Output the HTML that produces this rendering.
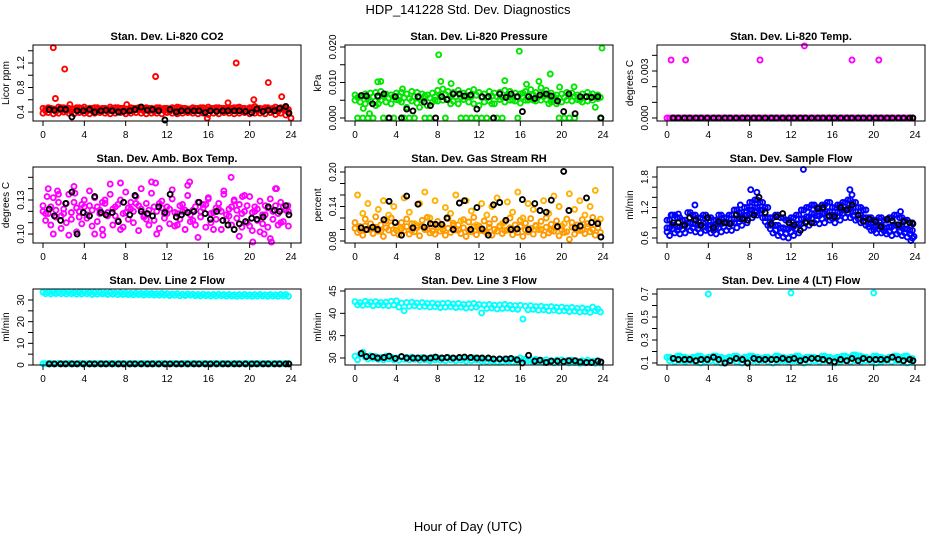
<!DOCTYPE html>
<html><head><meta charset="utf-8"><style>
html,body{margin:0;padding:0;background:#fff;}
svg{display:block;font-family:"Liberation Sans",Arial,sans-serif;}
</style></head><body>
<svg id="chart" width="936" height="540" viewBox="0 0 936 540">
<text x="468" y="14" text-anchor="middle" font-size="13">HDP_141228  Std. Dev. Diagnostics</text>
<text x="468" y="531" text-anchor="middle" font-size="13">Hour of Day (UTC)</text>
</svg>
<script>
const H = [0,0.5,1,1.5,2,2.5,3,3.5,4,4.5,5,5.5,6,6.5,7,7.5,8,8.5,9,9.5,10,10.5,11,11.5,12,12.5,13,13.5,14,14.5,15,15.5,16,16.5,17,17.5,18,18.5,19,19.5,20,20.5,21,21.5,22,22.5,23,23.5];
const H2 = [0.25,0.75,1.25,1.75,2.25,2.75,3.25,3.75,4.25,4.75,5.25,5.75,6.25,6.75,7.25,7.75,8.25,8.75,9.25,9.75,10.25,10.75,11.25,11.75,12.25,12.75,13.25,13.75,14.25,14.75,15.25,15.75,16.25,16.75,17.25,17.75,18.25,18.75,19.25,19.75,20.25,20.75,21.25,21.75,22.25,22.75,23.25,23.75];
const HB = [0.6,1.1,1.7,2.2,2.8,3.3,3.9,4.5,5.0,5.6,6.1,6.7,7.3,7.8,8.4,8.9,9.5,10.1,10.6,11.2,11.8,12.3,12.9,13.4,14.0,14.6,15.1,15.7,16.2,16.8,17.4,17.9,18.5,19.0,19.6,20.2,20.7,21.3,21.8,22.4,22.9,23.5,23.8];

const co2A = [0.46,0.47,0.45,0.48,0.47,0.46,0.45,0.47,0.48,0.46,0.47,0.45,0.46,0.48,0.47,0.46,0.45,0.47,0.46,0.48,0.47,0.46,0.47,0.45,0.46,0.47,0.48,0.46,0.45,0.47,0.46,0.47,0.48,0.46,0.47,0.46,0.45,0.47,0.48,0.46,0.47,0.49,0.46,0.47,0.45,0.48,0.47,0.46];
const co2B = [0.38,0.39,0.37,0.38,0.40,0.38,0.37,0.39,0.38,0.37,0.38,0.39,0.38,0.37,0.38,0.39,0.37,0.38,0.39,0.38,0.37,0.38,0.38,0.37,0.39,0.38,0.37,0.38,0.39,0.38,0.37,0.38,0.36,0.38,0.37,0.39,0.38,0.37,0.38,0.39,0.37,0.38,0.38,0.37,0.39,0.36,0.38,0.35];
const co2C = [0.42,0.43,0.41,0.43,0.42,0.41,0.43,0.42,0.41,0.42,0.43,0.42,0.41,0.42,0.43,0.42,0.41,0.42,0.43,0.42,0.42,0.41,0.43,0.42,0.41,0.42,0.43,0.42,0.41,0.42,0.43,0.41,0.42,0.43,0.42,0.41,0.42,0.43,0.42,0.41,0.43,0.42,0.41,0.43,0.42,0.41,0.44,0.40];
const co2D = [0.45,0.46,0.44,0.47,0.46,0.45,0.47,0.46,0.45,0.46,0.47,0.46,0.45,0.46,0.47,0.46,0.45,0.46,0.47,0.46,0.46,0.45,0.47,0.46,0.45,0.46,0.47,0.46,0.45,0.46,0.47,0.45,0.46,0.47,0.46,0.45,0.46,0.47,0.46,0.45,0.47,0.46,0.45,0.47,0.46,0.45,0.46,0.44];
const co2OutH = [1.0,1.2,2.1,10.9,18.7,21.8,23.1,20.4,15.9,24.0,2.6,8.1,17.9];
const co2OutV = [1.45,0.62,1.1,0.98,1.2,0.88,0.65,0.6,0.30,0.30,0.52,0.52,0.55];
const co2Blk = [0.44,0.43,0.45,0.44,0.32,0.42,0.42,0.44,0.40,0.42,0.43,0.42,0.40,0.41,0.42,0.44,0.48,0.43,0.44,0.42,0.27,0.44,0.40,0.42,0.42,0.42,0.42,0.39,0.42,0.41,0.42,0.42,0.42,0.42,0.41,0.39,0.45,0.41,0.43,0.42,0.46,0.49,0.38];

const prA = [0.0065,0.006,0.0068,0.007,0.0072,0.0075,0.0068,0.0065,0.007,0.0072,0.0068,0.0075,0.0072,0.0068,0.0065,0.007,0.0078,0.0082,0.0075,0.0072,0.0078,0.007,0.0075,0.008,0.0072,0.0068,0.0075,0.007,0.0072,0.0078,0.0075,0.007,0.0068,0.0075,0.008,0.0072,0.0085,0.0078,0.007,0.0065,0.0068,0.0072,0.007,0.0065,0.0068,0.0072,0.0068,0.0065];
const prB = [0.005,0.0045,0.004,0.0048,0.0035,0.005,0.0045,0.004,0.0052,0.0045,0.003,0.0048,0.0042,0.005,0.0035,0.0045,0.0048,0.005,0.0055,0.0048,0.004,0.0052,0.0045,0.004,0.0035,0.0045,0.0048,0.004,0.0052,0.0045,0.005,0.0048,0.0042,0.005,0.0055,0.0048,0.005,0.0052,0.0045,0.004,0.0045,0.005,0.0048,0.0052,0.0045,0.0048,0.005,0.0055];
const prC = [0,0,0,0,0.004,0,0,0,0.005,0,0,0,0.003,0,0,0.005,0.006,0,0.004,0.006,0,0,0,0,0,0,0.004,0,0,0.006,0.005,0,0.007,0.005,0.005,0.006,0.006,0.004,0.005,0,0,0,0,0.005,0.006,0.006,0.003,0];
const prD = [0.0058,0.0062,0.0055,0.006,0.0058,0.0062,0.0056,0.006,0.0062,0.0057,0.0055,0.006,0.0058,0.0062,0.0056,0.006,0.0064,0.0066,0.0062,0.006,0.0058,0.0062,0.006,0.0064,0.0058,0.0056,0.0062,0.006,0.0058,0.0064,0.0062,0.006,0.0058,0.0062,0.0065,0.006,0.0068,0.0064,0.006,0.0056,0.0058,0.0062,0.006,0.0056,0.0058,0.0062,0.006,0.0058];
const prOutH = [8.1,15.9,23.9,18.9,2.5,2.2,9.3,14.5,17.8,21.2,19.8,0.8,16.6,8.3,1.4,4.6];
const prOutV = [0.0178,0.0188,0.0197,0.0124,0.0103,0.0102,0.0097,0.0105,0.0103,0.0088,0.0087,0.0027,0.0095,0.0103,0.0012,0.0082];
const prBlk = [0.0063,0.0062,0.004,0.0062,0.0068,0,0.006,0,0.0025,0.002,0.006,0.0045,0.0035,0,0.006,0.0052,0.0068,0.0068,0.0062,0.0065,0.0025,0.006,0.006,0,0.0068,0.0058,0.0068,0.006,0.0018,0.006,0.0055,0.0065,0.0068,0.0062,0.0048,0.0018,0.0068,0.0012,0.006,0.006,0.0058,0.006,0];

const tmpZero = [0,0,0,0,0,0,0,0,0,0,0,0,0,0,0,0,0,0,0,0,0,0,0,0,0,0,0,0,0,0,0,0,0,0,0,0,0,0,0,0,0,0,0,0,0,0,0,0];
const tmpOutH = [0.4,1.8,9.0,13.3,17.9,20.5];
const tmpOutV = [0.0037,0.0037,0.0037,0.0046,0.0037,0.0037];
const tmpBlk = [0,0,0,0,0,0,0,0,0,0,0,0,0,0,0,0,0,0,0,0,0,0,0,0,0,0,0,0,0,0,0,0,0,0,0,0,0,0,0,0,0,0,0];

const ambA = [0.125,0.118,0.132,0.128,0.122,0.135,0.128,0.12,0.13,0.125,0.132,0.118,0.127,0.135,0.124,0.13,0.119,0.128,0.133,0.122,0.127,0.136,0.12,0.129,0.124,0.131,0.118,0.126,0.134,0.121,0.128,0.123,0.132,0.119,0.127,0.135,0.122,0.13,0.126,0.12,0.133,0.124,0.129,0.117,0.131,0.125,0.128,0.122];
const ambB = [0.112,0.108,0.115,0.105,0.11,0.113,0.102,0.109,0.114,0.107,0.111,0.104,0.116,0.108,0.112,0.106,0.113,0.11,0.103,0.115,0.108,0.112,0.105,0.114,0.109,0.107,0.113,0.104,0.111,0.108,0.115,0.106,0.11,0.113,0.104,0.112,0.108,0.114,0.106,0.11,0.103,0.112,0.109,0.106,0.113,0.108,0.111,0.107];
const ambC = [0.12,0.14,0.1,0.135,0.118,0.099,0.142,0.115,0.124,0.138,0.1,0.121,0.13,0.144,0.116,0.104,0.137,0.122,0.127,0.14,0.113,0.146,0.1,0.123,0.118,0.139,0.108,0.12,0.143,0.112,0.097,0.126,0.131,0.104,0.122,0.138,0.116,0.129,0.098,0.134,0.107,0.12,0.102,0.125,0.096,0.14,0.11,0.121];
const ambD = [0.118,0.124,0.121,0.116,0.127,0.119,0.123,0.126,0.117,0.121,0.124,0.128,0.119,0.122,0.126,0.118,0.123,0.12,0.125,0.117,0.121,0.124,0.127,0.118,0.122,0.119,0.125,0.121,0.117,0.124,0.12,0.126,0.118,0.123,0.12,0.117,0.124,0.121,0.118,0.125,0.119,0.122,0.117,0.123,0.12,0.118,0.124,0.12];
const ambOutH = [0.4,1.4,3.1,7.5,10.9,14.2,18.2,19.3,21.4,22.6,23.7,5.8,20.3,22.1];
const ambOutV = [0.133,0.138,0.136,0.145,0.145,0.146,0.15,0.133,0.1,0.14,0.125,0.099,0.093,0.093];
const ambBlk = [0.122,0.116,0.112,0.127,0.137,0.1,0.119,0.116,0.133,0.119,0.117,0.119,0.111,0.128,0.117,0.134,0.12,0.118,0.116,0.124,0.119,0.135,0.115,0.117,0.119,0.12,0.128,0.118,0.113,0.12,0.112,0.108,0.104,0.109,0.111,0.114,0.113,0.115,0.124,0.121,0.12,0.125,0.117];

const rhA = [0.112,0.105,0.118,0.11,0.122,0.108,0.115,0.12,0.105,0.112,0.118,0.11,0.107,0.116,0.121,0.109,0.114,0.106,0.119,0.111,0.108,0.117,0.113,0.121,0.106,0.115,0.11,0.118,0.105,0.113,0.12,0.108,0.116,0.111,0.119,0.107,0.114,0.12,0.109,0.115,0.106,0.118,0.112,0.108,0.117,0.11,0.121,0.113];
const rhB = [0.095,0.09,0.1,0.093,0.097,0.088,0.099,0.094,0.091,0.098,0.092,0.096,0.089,0.1,0.094,0.092,0.097,0.09,0.095,0.099,0.093,0.088,0.096,0.091,0.098,0.094,0.09,0.097,0.093,0.099,0.091,0.095,0.088,0.096,0.092,0.1,0.09,0.094,0.097,0.089,0.095,0.083,0.092,0.098,0.093,0.096,0.09,0.095];
const rhC = [0.16,0.128,0.145,0.102,0.135,0.15,0.125,0.14,0.1,0.155,0.13,0.11,0.145,0.165,0.12,0.15,0.105,0.138,0.128,0.16,0.115,0.15,0.132,0.108,0.145,0.125,0.14,0.155,0.11,0.148,0.13,0.165,0.12,0.145,0.135,0.102,0.15,0.128,0.158,0.14,0.11,0.162,0.135,0.15,0.125,0.14,0.168,0.118];
const rhD = [0.102,0.098,0.106,0.1,0.104,0.097,0.103,0.107,0.099,0.101,0.105,0.098,0.103,0.106,0.1,0.097,0.104,0.1,0.102,0.107,0.099,0.103,0.098,0.105,0.101,0.097,0.104,0.1,0.106,0.098,0.103,0.1,0.105,0.099,0.102,0.106,0.1,0.104,0.098,0.103,0.1,0.096,0.104,0.101,0.099,0.105,0.1,0.103];
const rhBlk = [0.103,0.1,0.104,0.1,0.117,0.149,0.112,0.09,0.158,0.103,0.144,0.104,0.11,0.109,0.109,0.12,0.1,0.146,0.15,0.1,0.138,0.101,0.09,0.143,0.147,0.116,0.1,0.101,0.152,0.1,0.145,0.133,0.13,0.151,0.105,0.201,0.133,0.103,0.106,0.155,0.112,0.11,0.087];

const sfA = [0.95,1.05,1.0,0.95,1.1,1.05,1.0,1.05,1.0,0.95,1.05,1.0,1.05,1.15,1.1,1.2,1.3,1.35,1.3,1.2,1.0,1.05,1.0,0.95,1.0,1.05,1.15,1.2,1.25,1.2,1.25,1.3,1.2,1.25,1.3,1.35,1.3,1.2,1.15,1.0,0.95,1.0,0.95,1.0,1.05,1.0,0.95,0.9];
const sfB = [0.65,0.7,0.68,0.7,0.75,0.72,0.7,0.75,0.7,0.68,0.72,0.75,0.75,0.8,0.85,0.9,1.0,1.05,1.0,0.85,0.7,0.65,0.62,0.6,0.65,0.7,0.8,0.85,0.9,0.88,0.9,0.95,0.9,0.95,1.0,1.0,0.95,0.9,0.85,0.75,0.7,0.7,0.68,0.65,0.68,0.65,0.62,0.6];
const sfC = [0.8,0.85,0.82,0.85,0.9,0.88,0.85,0.9,0.85,0.82,0.88,0.9,0.9,0.98,0.98,1.05,1.15,1.2,1.15,1.0,0.85,0.85,0.8,0.78,0.82,0.88,0.98,1.02,1.08,1.04,1.08,1.12,1.05,1.1,1.15,1.18,1.12,1.05,1.0,0.88,0.82,0.85,0.8,0.82,0.86,0.82,0.78,0.75];
const sfD = [0.72,0.78,0.75,0.77,0.82,0.8,0.78,0.82,0.78,0.75,0.8,0.82,0.82,0.9,0.92,0.98,1.08,1.12,1.08,0.92,0.78,0.75,0.7,0.68,0.72,0.78,0.88,0.92,0.98,0.95,0.98,1.02,0.98,1.02,1.08,1.1,1.04,0.98,0.92,0.82,0.76,0.78,0.74,0.72,0.76,0.72,0.7,0.68];
const sfOutH = [13.2,8.1,8.7,17.7,2.7,7.1,23.6,23.9,17.9,22.6,1.1,0.4];
const sfOutV = [1.95,1.55,1.5,1.55,1.25,1.25,0.55,0.63,1.45,1.12,1.07,1.05];
const sfBlk = [0.9,0.9,0.85,1.0,0.95,0.85,1.0,0.8,0.92,0.9,0.88,1.05,0.98,0.95,1.05,1.4,1.1,0.88,1.02,1.08,0.9,0.86,0.75,0.9,0.9,1.18,1.2,1.03,1.02,1.2,1.15,1.25,1.05,0.93,0.97,0.92,0.82,0.97,0.94,0.86,0.92,0.9,0.88];

const l2A = [33.6,33.5,33.7,33.6,33.5,33.6,33.4,33.5,33.7,33.5,33.4,33.5,33.3,33.4,33.2,33.3,33.2,33.1,33.2,33.0,33.1,33.0,32.9,33.0,32.9,32.8,32.9,32.7,32.8,32.7,32.6,32.7,32.5,32.6,32.7,32.5,32.6,32.4,32.5,32.6,32.4,32.5,32.6,32.4,32.5,32.4,32.6,32.5];
const l2B = [32.9,32.8,33.0,32.9,32.8,32.9,32.7,32.8,32.9,32.6,32.7,32.8,32.6,32.7,32.5,32.6,32.5,32.4,32.5,32.3,32.4,32.3,32.2,32.3,32.1,32.2,32.0,32.1,32.2,32.0,31.9,32.0,31.8,31.9,32.0,31.8,31.9,31.7,31.8,31.9,31.7,31.8,31.9,31.7,31.8,31.7,31.9,31.7];
const l2Lo = [0.6,0.7,0.6,0.7,0.6,0.7,0.6,0.7,0.6,0.7,0.6,0.7,0.6,0.7,0.6,0.7,0.6,0.7,0.6,0.7,0.6,0.7,0.6,0.7,0.6,0.7,0.6,0.7,0.6,0.7,0.6,0.7,0.6,0.7,0.6,0.7,0.6,0.7,0.6,0.7,0.6,0.7,0.6,0.7,0.6,0.7,0.6,0.7];
const l2Blk = [0.5,0.5,0.5,0.5,0.5,0.5,0.5,0.5,0.5,0.5,0.5,0.5,0.5,0.5,0.5,0.5,0.5,0.5,0.5,0.5,0.5,0.5,0.5,0.5,0.5,0.5,0.5,0.5,0.5,0.5,0.5,0.5,0.5,0.5,0.5,0.5,0.5,0.5,0.5,0.5,0.5,0.5,0.5];

const l3A = [42.6,42.4,42.7,42.5,42.6,42.4,42.5,42.7,42.8,42.3,42.4,42.5,42.3,42.4,42.2,42.3,42.1,42.2,42.3,42.1,42.2,42.0,42.1,42.2,42.0,41.9,42.0,41.8,41.9,42.0,41.8,41.7,41.8,41.6,41.7,41.5,41.6,41.4,41.5,41.3,41.4,41.2,41.3,41.1,41.2,41.0,41.4,41.0];
const l3B = [41.9,41.8,42.0,41.7,41.9,41.8,41.7,41.9,41.4,40.6,41.6,41.7,41.5,41.6,41.4,41.5,41.3,41.4,41.5,41.3,41.4,41.2,41.3,41.4,40.1,41.1,41.2,41.0,41.1,41.2,41.0,40.9,38.7,40.8,40.9,40.7,40.8,40.6,40.7,40.5,40.6,40.4,40.5,40.3,40.4,40.2,40.6,40.3];
const l3C = [30.4,30.8,30.2,30.5,30.3,30.1,30.4,30.2,30.0,30.3,30.1,30.2,30.0,30.1,29.9,30.1,30.0,29.9,30.1,29.9,30.0,29.8,29.9,30.0,29.8,29.7,29.8,29.6,29.7,29.8,29.6,29.7,30.0,29.8,29.6,29.7,29.5,29.6,29.4,29.5,29.6,29.4,29.5,29.3,29.4,29.5,29.3,29.4];
const l3D = [29.6,31.3,29.8,29.9,29.7,29.6,29.8,29.6,29.5,29.7,29.6,29.7,29.5,29.6,29.4,29.6,29.5,29.4,29.6,29.4,29.5,29.3,29.4,29.5,29.3,29.2,29.3,29.1,29.2,29.3,29.1,29.2,29.5,29.4,29.1,29.2,29.0,29.1,28.9,29.0,29.1,28.9,29.0,28.8,28.9,29.0,28.8,28.9];
const l3Blk = [31.0,30.3,30.3,30.0,30.1,30.4,29.9,30.3,30.0,30.0,30.0,30.0,30.0,30.2,30.0,30.1,30.0,30.1,30.2,30.1,30.0,30.0,30.0,29.8,29.8,29.8,29.9,29.6,28.9,30.6,29.3,29.5,29.0,29.3,29.3,29.2,29.4,29.4,29.1,29.0,29.0,29.3,29.1];

const l4A = [0.15,0.14,0.16,0.15,0.14,0.15,0.16,0.14,0.15,0.16,0.15,0.14,0.15,0.16,0.14,0.15,0.16,0.15,0.14,0.15,0.14,0.16,0.15,0.14,0.15,0.16,0.14,0.15,0.15,0.14,0.16,0.15,0.14,0.15,0.16,0.15,0.17,0.16,0.15,0.14,0.16,0.15,0.14,0.15,0.16,0.15,0.16,0.14];
const l4B = [0.12,0.11,0.12,0.11,0.12,0.11,0.1,0.11,0.12,0.11,0.1,0.11,0.12,0.11,0.1,0.11,0.12,0.11,0.12,0.11,0.1,0.11,0.12,0.11,0.12,0.11,0.1,0.11,0.12,0.11,0.12,0.11,0.1,0.11,0.12,0.11,0.12,0.11,0.12,0.11,0.1,0.11,0.12,0.11,0.12,0.11,0.1,0.11];
const l4OutH = [4.0,12.0,20.0];
const l4OutV = [0.7,0.71,0.71];
const l4Blk = [0.14,0.13,0.13,0.13,0.12,0.13,0.13,0.15,0.13,0.10,0.12,0.14,0.13,0.10,0.14,0.13,0.13,0.13,0.13,0.14,0.13,0.14,0.12,0.13,0.14,0.14,0.13,0.12,0.11,0.13,0.12,0.14,0.12,0.14,0.13,0.13,0.13,0.13,0.15,0.13,0.12,0.13,0.12];

const panels = [
 {name:'co2',col:0,row:0,title:'Stan. Dev. Li-820 CO2',ylab:'Licor ppm',dom:[0.253,1.494],ticks:[0.4,0.6,0.8,1.0,1.2,1.4],labels:['0.4','','0.8','','1.2',''],
  series:[[H,co2A,'#ff0000'],[H,co2B,'#ff0000'],[H2,co2C,'#ff0000'],[H2,co2D,'#ff0000'],[co2OutH,co2OutV,'#ff0000'],[HB,co2Blk,'#000']]},
 {name:'pressure',col:1,row:0,title:'Stan. Dev. Li-820 Pressure',ylab:'kPa',dom:[-0.000845,0.02056],ticks:[0,0.005,0.01,0.015,0.02],labels:['0.000','','0.010','','0.020'],
  series:[[H,prA,'#00e600'],[H,prB,'#00e600'],[H2,prC,'#00e600'],[H2,prD,'#00e600'],[prOutH,prOutV,'#00e600'],[HB,prBlk,'#000']]},
 {name:'li820-temp',col:2,row:0,title:'Stan. Dev. Li-820 Temp.',ylab:'degrees C',dom:[-0.000191,0.00466],ticks:[0,0.001,0.002,0.003,0.004],labels:['0.000','','','0.003',''],
  series:[[H,tmpZero,'#ff00ff'],[H2,tmpZero,'#ff00ff'],[tmpOutH,tmpOutV,'#ff00ff'],[HB,tmpBlk,'#000']]},
 {name:'amb-box-temp',col:0,row:1,title:'Stan. Dev. Amb. Box Temp.',ylab:'degrees C',dom:[0.0921,0.1591],ticks:[0.10,0.11,0.12,0.13,0.14,0.15],labels:['0.10','','','0.13','',''],
  series:[[H,ambA,'#ff00ff'],[H2,ambB,'#ff00ff'],[H,ambC,'#ff00ff'],[H2,ambD,'#ff00ff'],[ambOutH,ambOutV,'#ff00ff'],[HB,ambBlk,'#000']]},
 {name:'gas-stream-rh',col:1,row:1,title:'Stan. Dev. Gas Stream RH',ylab:'percent',dom:[0.0765,0.2087],ticks:[0.08,0.10,0.12,0.14,0.16,0.18,0.20],labels:['0.08','','','0.14','','','0.20'],
  series:[[H,rhA,'#ff9900'],[H2,rhB,'#ff9900'],[H,rhD,'#ff9900'],[H2,rhC,'#ffb000'],[HB,rhBlk,'#000']]},
 {name:'sample-flow',col:2,row:1,title:'Stan. Dev. Sample Flow',ylab:'ml/min',dom:[0.5016,1.997],ticks:[0.6,0.8,1.0,1.2,1.4,1.6,1.8],labels:['0.6','','','1.2','','','1.8'],
  series:[[H,sfA,'#0000ff'],[H2,sfB,'#0000ff'],[H,sfC,'#0000ff'],[H2,sfC,'#0000ff'],[H,sfD,'#0000ff'],[H2,sfA,'#0000ff'],[sfOutH,sfOutV,'#0000ff'],[HB,sfBlk,'#000']]},
 {name:'line2-flow',col:0,row:2,title:'Stan. Dev. Line 2 Flow',ylab:'ml/min',dom:[0,35.08],ticks:[0,5,10,15,20,25,30],labels:['0','','10','','20','','30'],
  series:[[H,l2A,'#00ffff'],[H2,l2B,'#00ffff'],[H,l2Lo,'#00ffff'],[H2,l2Lo,'#00ffff'],[HB,l2Blk,'#000']]},
 {name:'line3-flow',col:1,row:2,title:'Stan. Dev. Line 3 Flow',ylab:'ml/min',dom:[28.43,45.45],ticks:[30,35,40,45],labels:['30','35','40','45'],
  series:[[H,l3A,'#00ffff'],[H2,l3B,'#00ffff'],[H,l3C,'#00ffff'],[H2,l3D,'#00ffff'],[HB,l3Blk,'#000']]},
 {name:'line4-flow',col:2,row:2,title:'Stan. Dev. Line 4 (LT) Flow',ylab:'ml/min',dom:[0.0826,0.7435],ticks:[0.1,0.2,0.3,0.4,0.5,0.6,0.7],labels:['0.1','','0.3','','0.5','','0.7'],
  series:[[H,l4A,'#00ffff'],[H2,l4B,'#00ffff'],[H2,l4A,'#00ffff'],[l4OutH,l4OutV,'#00ffff'],[HB,l4Blk,'#000']]}
];
const xTicks = [0,4,8,12,16,20,24];

const NS='http://www.w3.org/2000/svg';
const svg=document.getElementById('chart');
function mk(tag,attrs,parent){const e=document.createElementNS(NS,tag);for(const k in attrs)e.setAttribute(k,attrs[k]);parent.appendChild(e);return e;}
panels.forEach(p=>{
  const L=33+p.col*312, T=45+p.row*122, W=268, Hh=76;
  const g=mk('g',{},svg);
  
  
  const xs=h=>L+10+h*(248/24);
  const ys=v=>T+Hh-(v-p.dom[0])/(p.dom[1]-p.dom[0])*Hh;
  const t=mk('text',{x:L+W/2,y:T-5,'text-anchor':'middle','font-size':'11','font-weight':'bold'},g);
  t.textContent=p.title;
  
  
  const yl=mk('text',{x:0,y:0,'text-anchor':'middle','font-size':'10',transform:`translate(${L-24},${T+Hh/2}) rotate(-90)`},g);
  yl.textContent=p.ylab;
  
  
  const pg=mk('g',{fill:'none','stroke-width':'1.9'},g);
  p.series.forEach(s=>{
    const xsArr=s[0], vs=s[1], n=Math.min(xsArr.length,vs.length);
    for(let i=0;i<n;i++){
      const c=mk('circle',{cx:xs(xsArr[i]).toFixed(1),cy:ys(vs[i]).toFixed(1),r:'2.5',stroke:s[2]},pg);
      
      
    }
  });
  const box=mk('rect',{x:L,y:T,width:W,height:Hh,fill:'none',stroke:'#000','stroke-width':'1'},g);
  
  
  mk('line',{x1:xs(0),x2:xs(24),y1:T+Hh,y2:T+Hh,stroke:'#000'},g);
  xTicks.forEach(v=>{
    mk('line',{x1:xs(v),x2:xs(v),y1:T+Hh,y2:T+Hh+5,stroke:'#000'},g);
    const tx=mk('text',{x:xs(v),y:T+Hh+17,'text-anchor':'middle','font-size':'10'},g);
    tx.textContent=v;
    
    
  });
  mk('line',{x1:L,x2:L,y1:ys(p.ticks[0]),y2:ys(p.ticks[p.ticks.length-1]),stroke:'#000'},g);
  p.ticks.forEach((v,i)=>{
    mk('line',{x1:L-5,x2:L,y1:ys(v),y2:ys(v),stroke:'#000'},g);
    if(p.labels[i]){
      const ty=mk('text',{x:0,y:0,'text-anchor':'middle','font-size':'10',transform:`translate(${L-9},${ys(v)}) rotate(-90)`},g);
      ty.textContent=p.labels[i];
      
      
    }
  });
});
</script>
</body></html>
